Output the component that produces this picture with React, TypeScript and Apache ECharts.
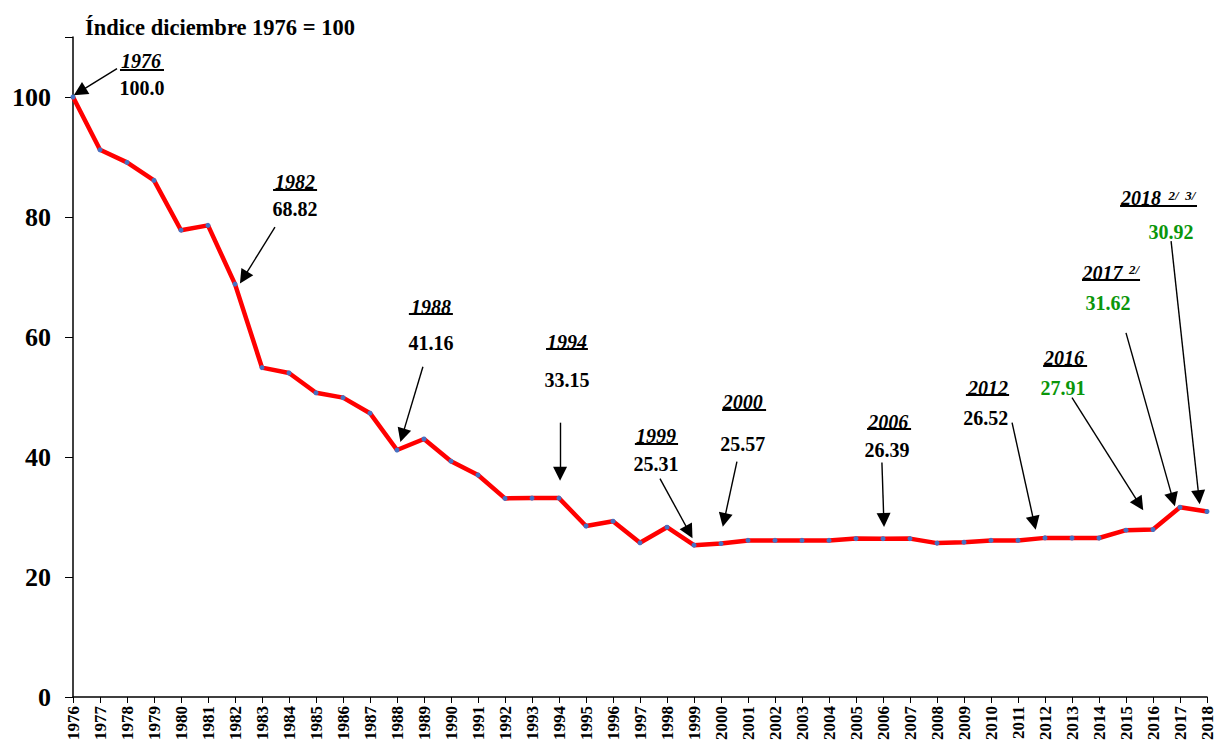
import React, { useEffect, useRef } from "react";
import * as echarts from "echarts";

const years: string[] = [
  "1976","1977","1978","1979","1980","1981","1982","1983","1984","1985",
  "1986","1987","1988","1989","1990","1991","1992","1993","1994","1995",
  "1996","1997","1998","1999","2000","2001","2002","2003","2004","2005",
  "2006","2007","2008","2009","2010","2011","2012","2013","2014","2015",
  "2016","2017","2018",
];

const indexValues: number[] = [
  100.0, 91.2, 89.1, 86.1, 77.8, 78.6, 68.82, 54.9, 54.0, 50.7,
  49.9, 47.3, 41.16, 43.0, 39.3, 37.0, 33.1, 33.15, 33.15, 28.5,
  29.3, 25.7, 28.3, 25.31, 25.57, 26.1, 26.1, 26.1, 26.1, 26.4,
  26.39, 26.4, 25.65, 25.8, 26.1, 26.1, 26.52, 26.5, 26.5, 27.8,
  27.91, 31.62, 30.92,
];

const yTicks: number[] = [0, 20, 40, 60, 80, 100];

// Highlighted years and their values (labels)
const calloutYears: string[] = ["1976","1982","1988","1994","1999","2000","2006","2012","2016","2017","2018"];
const calloutValues: string[] = ["100.0","68.82","41.16","33.15","25.31","25.57","26.39","26.52","27.91","31.62","30.92"];
const calloutGreen: boolean[] = [false,false,false,false,false,false,false,false,true,true,true];
const calloutNotes: string[] = ["","","","","","","","","","2/","2/  3/"];

// Annotation placement (in axis units: [year position, index level])
const yearLabelPos: number[][] = [
  [1978.52, 106.07], [1984.22, 85.79], [1989.26, 65.0], [1994.3, 59.19], [1997.59, 43.56],
  [2000.81, 49.21], [2006.19, 45.89], [2009.89, 51.54], [2012.7, 56.53], [2014.13, 70.66], [2015.56, 83.13],
];
const notePos: number[][] = [
  [0, 0], [0, 0], [0, 0], [0, 0], [0, 0], [0, 0], [0, 0], [0, 0], [0, 0], [2015.3, 71.32], [2017.07, 83.62],
];
const valueLabelPos: number[][] = [
  [1978.56, 101.58], [1984.22, 81.3], [1989.26, 59.02], [1994.3, 52.87], [1997.59, 38.9],
  [2000.81, 42.23], [2006.15, 41.23], [2009.81, 46.55], [2012.67, 51.54], [2014.33, 65.67], [2016.67, 77.47],
];
const underlines: number[][] = [
  [1977.74, 1979.37, 104.57], [1983.41, 1985.04, 84.62], [1988.44, 1990.07, 63.84], [1993.52, 1995.07, 58.02],
  [1996.81, 1998.41, 42.23], [2000.04, 2001.67, 47.88], [2005.41, 2007.04, 44.72], [2009.07, 2010.67, 50.37],
  [2011.93, 2013.56, 55.2], [2013.37, 2015.52, 69.49], [2014.78, 2017.63, 81.8],
];
const arrows: number[][] = [
  [1977.63, 104.74, 1976.25, 100.9], [1983.48, 78.3, 1982.32, 69.9], [1988.96, 55.03, 1988.2, 43.6],
  [1994.04, 45.72, 1994.04, 37.2], [1997.74, 36.41, 1998.82, 27.5], [2000.59, 39.24, 2000.12, 29.5],
  [2005.96, 39.07, 2006.03, 29.5], [2010.78, 45.72, 2011.6, 29.0], [2013.0, 49.88, 2015.5, 32.1],
  [2015.0, 60.68, 2016.74, 32.9], [2016.67, 75.98, 2017.7, 33.3],
];

const FONT = "Liberation Serif";
const GREEN = "#0a960a";

export default function App() {
  const ref = useRef<HTMLDivElement>(null);

  useEffect(() => {
    if (!ref.current) return;
    const chart = echarts.init(ref.current, undefined, { renderer: "svg" });

    const option: any = {
      animation: false,
      title: {
        text: "Índice diciembre 1976 = 100",
        left: 80,
        top: 11,
        textStyle: { fontFamily: FONT, fontSize: 22.5, fontWeight: "bold", color: "#000" },
      },
      grid: { left: 73, right: 13, top: 37, bottom: 54, containLabel: false },
      xAxis: [
        {
          type: "category",
          data: years,
          boundaryGap: false,
          axisLine: { lineStyle: { color: "#000", width: 1.5 } },
          axisTick: { show: true, length: 6, interval: 0, lineStyle: { color: "#000", width: 1 } },
          axisLabel: {
            interval: 0,
            rotate: 90,
            margin: 9,
            color: "#000",
            fontFamily: FONT,
            fontWeight: "bold",
            fontSize: 17,
          },
          splitLine: { show: false },
        },
        { type: "value", min: 1976, max: 2018, show: false },
      ],
      yAxis: {
        type: "value",
        min: 0,
        max: 110,
        interval: 20,
        axisLine: { show: true, lineStyle: { color: "#000", width: 1.5 } },
        axisTick: { show: true, length: 8, lineStyle: { color: "#000", width: 1 } },
        splitLine: { show: false },
        axisLabel: {
          margin: 22,
          color: "#000",
          fontFamily: FONT,
          fontWeight: "bold",
          fontSize: 26,
          formatter: (v: number) => (yTicks.includes(v) ? String(v) : ""),
        },
      },
      series: [
        {
          type: "line",
          data: indexValues,
          symbol: "circle",
          symbolSize: 5,
          showAllSymbol: true,
          itemStyle: { color: "#4472C4" },
          lineStyle: { color: "#ff0000", width: 4.5 },
          z: 5,
          silent: true,
        },
        {
          type: "lines",
          coordinateSystem: "cartesian2d",
          xAxisIndex: 1,
          yAxisIndex: 0,
          symbol: ["none", "triangle"],
          symbolSize: [10, 14],
          lineStyle: { color: "#000", width: 1.4, opacity: 1, curveness: 0 },
          data: arrows.map((a) => ({ coords: [[a[0], a[1]], [a[2], a[3]]] })),
          silent: true,
          z: 6,
        },
        {
          type: "lines",
          coordinateSystem: "cartesian2d",
          xAxisIndex: 1,
          yAxisIndex: 0,
          symbol: ["none", "none"],
          lineStyle: { color: "#000", width: 1.8, opacity: 1, curveness: 0 },
          data: underlines.map((u) => ({ coords: [[u[0], u[2]], [u[1], u[2]]] })),
          silent: true,
          z: 6,
        },
      ],
    };

    chart.setOption(option);

    const toPx = (p: number[]) =>
      chart.convertToPixel({ xAxisIndex: 1, yAxisIndex: 0 } as any, p) as unknown as number[];

    const texts: any[] = [];
    const addText = (p: number[], text: string, size: number, italic: boolean, color: string) => {
      const [x, y] = toPx(p);
      texts.push({
        type: "text",
        x,
        y,
        z: 100,
        silent: true,
        style: {
          text,
          fill: color,
          font: `${italic ? "italic " : ""}bold ${size}px "${FONT}"`,
          align: "center",
          verticalAlign: "middle",
        },
      });
    };
    calloutYears.forEach((yr, i) => {
      addText(yearLabelPos[i], yr, 20, true, "#000");
      addText(valueLabelPos[i], calloutValues[i], 20, false, calloutGreen[i] ? GREEN : "#000");
      if (calloutNotes[i]) addText(notePos[i], calloutNotes[i], 13, true, "#000");
    });

    chart.setOption({ graphic: texts });
    return () => chart.dispose();
  }, []);

  return (
    <div
      ref={ref}
      style={{ position: "absolute", left: 0, top: 0, width: 1220, height: 751, background: "#fff" }}
    />
  );
}
